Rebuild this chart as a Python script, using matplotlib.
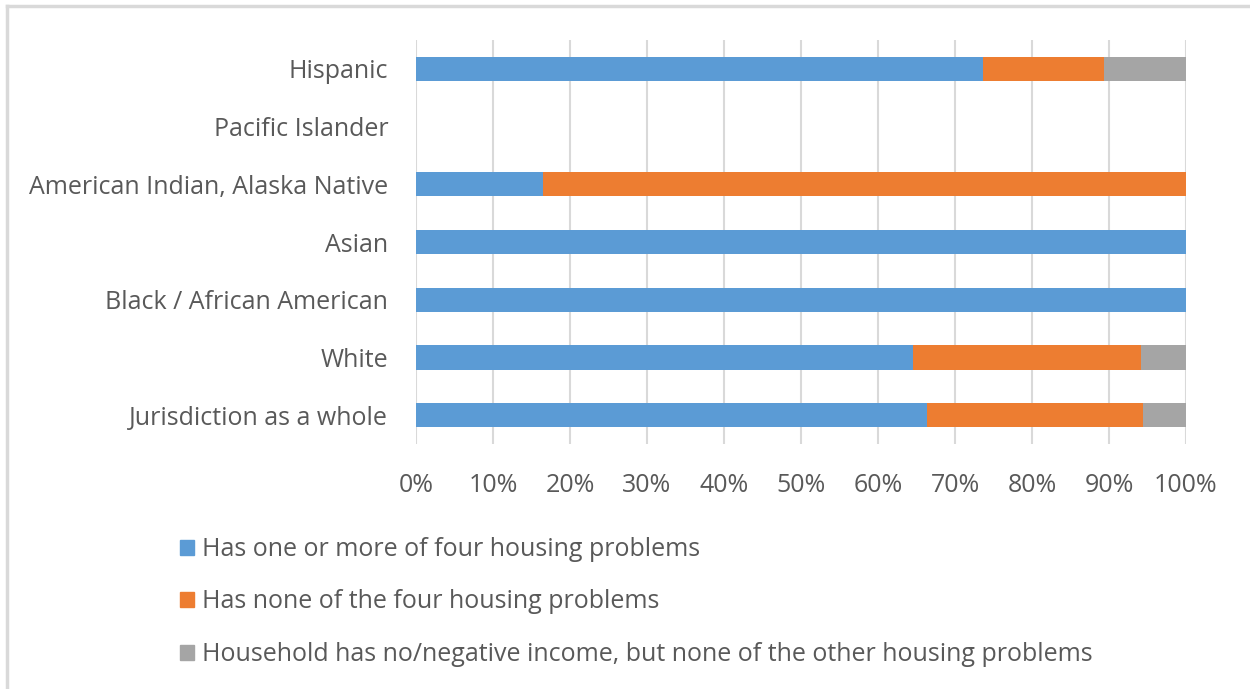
import matplotlib.pyplot as plt
from matplotlib.patches import Rectangle
from matplotlib.lines import Line2D

plt.rcParams['font.family'] = ['Open Sans', 'DejaVu Sans']

categories = ["Jurisdiction as a whole", "White", "Black / African American", "Asian",
              "American Indian, Alaska Native", "Pacific Islander", "Hispanic"]
one_or_more = [66.4, 64.6, 100, 100, 16.5, 0, 73.6]
none_of_four = [28.0, 29.6, 0, 0, 83.5, 0, 15.8]
no_income = [5.6, 5.8, 0, 0, 0, 0, 10.6]

series_names = ["Has one or more of four housing problems",
                "Has none of the four housing problems",
                "Household has no/negative income, but none of the other housing problems"]
colors = ["#5b9bd5", "#ed7d31", "#a5a5a5"]
ticks = list(range(0, 101, 10))

fig = plt.figure(figsize=(12.5, 6.89), dpi=100)
ax = fig.add_axes([416 / 1250, 1 - 444 / 689, 770 / 1250, 404 / 689])

y = list(range(len(categories)))
left = [0] * len(categories)
for vals, c, name in zip([one_or_more, none_of_four, no_income], colors, series_names):
    ax.barh(y, vals, left=left, height=0.42, color=c, label=name, zorder=3)
    left = [a + b for a, b in zip(left, vals)]

ax.set_xlim(0, 100)
ax.set_ylim(-0.5, len(categories) - 0.5)
ax.set_xticks(ticks)
ax.set_xticklabels([f"{t}%" for t in ticks])
ax.set_yticks(y)
ax.set_yticklabels(categories)
ax.tick_params(axis='both', length=0, labelsize=18, colors="#595959")
ax.tick_params(axis='x', pad=21)
ax.tick_params(axis='y', pad=20)
ax.grid(axis='x', color="#d9d9d9", linewidth=1.5, zorder=0)
for s in ax.spines.values():
    s.set_visible(False)

handles = [Rectangle((0, 0), 1, 1, color=c) for c in colors]
fig.legend(handles, series_names, loc='upper left', bbox_to_anchor=(170 / 1250, 1 - 527 / 689),
           frameon=False, fontsize=18, labelcolor="#595959", handlelength=0.55, handleheight=0.55,
           handletextpad=0.35, labelspacing=1.1, borderaxespad=0)

# light frame around the chart
fig.add_artist(Line2D([7 / 1250, 7 / 1250], [0, 1 - 6 / 689], color="#d9d9d9", linewidth=2.5,
                      transform=fig.transFigure))
fig.add_artist(Line2D([7 / 1250, 1], [1 - 6 / 689, 1 - 6 / 689], color="#d9d9d9", linewidth=2.5,
                      transform=fig.transFigure))

fig.savefig("out.png", dpi=100)
